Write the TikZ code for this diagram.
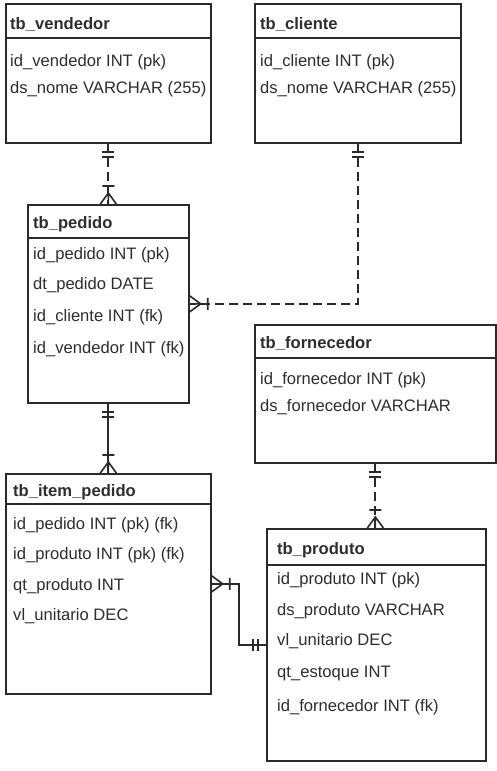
\documentclass[tikz,border=0pt]{standalone}
\usepackage{fontspec}
\setmainfont{Liberation Sans}
\usetikzlibrary{calc}
\definecolor{ln}{HTML}{2A2A2A}
\definecolor{tx}{HTML}{2E2E2E}
\tikzset{
  tbl/.style={draw=ln, line width=1.7pt, anchor=north west, inner sep=0pt, fill=white},
  hdr/.style={anchor=base west, inner sep=0pt, text=tx, font=\fontsize{16.6}{20}\selectfont\bfseries},
  fld/.style={anchor=base west, inner sep=0pt, text=tx, font=\fontsize{16.6}{20}\selectfont},
  divl/.style={draw=ln, line width=1.7pt},
  conn/.style={draw=ln, line width=1.8pt},
  dsh/.style={dash pattern=on 9pt off 5pt},
  erone/.pic={\draw[ln, line width=1.6pt, solid] (8,-6)--(8,6) (13,-6)--(13,6);},
  ermany/.pic={\draw[ln, line width=1.6pt, solid] (0,-8)--(11,0)--(0,8) (0,0)--(11,0) (18,-6)--(18,6);}
}
\begin{document}
\begin{tikzpicture}[x=1pt, y=-1pt]
\useasboundingbox (0,0) rectangle (497,771);
\fill[white] (0,0) rectangle (497,771);

% tables
\node[tbl, minimum width=205pt, minimum height=139pt] (vend) at (5,3) {};
\draw[divl] ($(vend.north west)+(0,35)$) -- ($(vend.north east)+(0,35)$);
\node[hdr] (vendT) at (10,29) {tb\_vendedor};
\node[fld] (vend1) at (10,66) {id\_vendedor INT (pk)};
\node[fld] (vend2) at (10,93) {ds\_nome VARCHAR (255)};

\node[tbl, minimum width=206pt, minimum height=139pt] (cli) at (254,3) {};
\draw[divl] ($(cli.north west)+(0,35)$) -- ($(cli.north east)+(0,35)$);
\node[hdr] (cliT) at (260,29) {tb\_cliente};
\node[fld] (cli1) at (260,66) {id\_cliente INT (pk)};
\node[fld] (cli2) at (260,93) {ds\_nome VARCHAR (255)};

\node[tbl, minimum width=161pt, minimum height=198pt] (ped) at (27,204) {};
\draw[divl] ($(ped.north west)+(0,34)$) -- ($(ped.north east)+(0,34)$);
\node[hdr] (pedT) at (33,228) {tb\_pedido};
\node[fld] (ped1) at (33,259) {id\_pedido INT (pk)};
\node[fld] (ped2) at (33,289) {dt\_pedido DATE};
\node[fld] (ped3) at (33,321) {id\_cliente INT (fk)};
\node[fld] (ped4) at (33,353) {id\_vendedor INT (fk)};

\node[tbl, minimum width=241pt, minimum height=138pt] (forn) at (254,324) {};
\draw[divl] ($(forn.north west)+(0,34)$) -- ($(forn.north east)+(0,34)$);
\node[hdr] (fornT) at (260,348) {tb\_fornecedor};
\node[fld] (forn1) at (260,384) {id\_fornecedor INT (pk)};
\node[fld] (forn2) at (260,411) {ds\_fornecedor VARCHAR};

\node[tbl, minimum width=205pt, minimum height=220pt] (item) at (5,473) {};
\draw[divl] ($(item.north west)+(0,31)$) -- ($(item.north east)+(0,31)$);
\node[hdr] (itemT) at (13,496) {tb\_item\_pedido};
\node[fld] (item1) at (13,529) {id\_pedido INT (pk) (fk)};
\node[fld] (item2) at (13,559) {id\_produto INT (pk) (fk)};
\node[fld] (item3) at (13,590) {qt\_produto INT};
\node[fld] (item4) at (13,620) {vl\_unitario DEC};

\node[tbl, minimum width=219pt, minimum height=232pt] (prod) at (266,528) {};
\draw[divl] ($(prod.north west)+(0,37)$) -- ($(prod.north east)+(0,37)$);
\node[hdr] (prodT) at (277,554) {tb\_produto};
\node[fld] (prod1) at (277,584) {id\_produto INT (pk)};
\node[fld] (prod2) at (277,615) {ds\_produto VARCHAR};
\node[fld] (prod3) at (277,645) {vl\_unitario DEC};
\node[fld] (prod4) at (277,677) {qt\_estoque INT};
\node[fld] (prod5) at (277,711) {id\_fornecedor INT (fk)};

% connectors
\draw[conn, dsh] (vend.south) -- (ped.north);
\pic[rotate=-90] at (vend.south) {erone};
\pic[rotate=90] at (ped.north) {ermany};

\draw[conn, dsh] (cli.south) |- (ped.east);
\pic[rotate=-90] at (cli.south) {erone};
\pic at (ped.east) {ermany};

\draw[conn] (ped.south) -- (item.north);
\pic[rotate=-90] at (ped.south) {erone};
\pic[rotate=90] at (item.north) {ermany};

\draw[conn, dsh] (forn.south) -- (forn.south |- prod.north);
\pic[rotate=-90] at (forn.south) {erone};
\pic[rotate=90] at (forn.south |- prod.north) {ermany};

\coordinate (bend) at (239,0);
\draw[conn] (item.east) -- (item.east -| bend) |- (prod.west);
\pic at (item.east) {ermany};
\pic[rotate=180] at (prod.west) {erone};
\end{tikzpicture}
\end{document}
